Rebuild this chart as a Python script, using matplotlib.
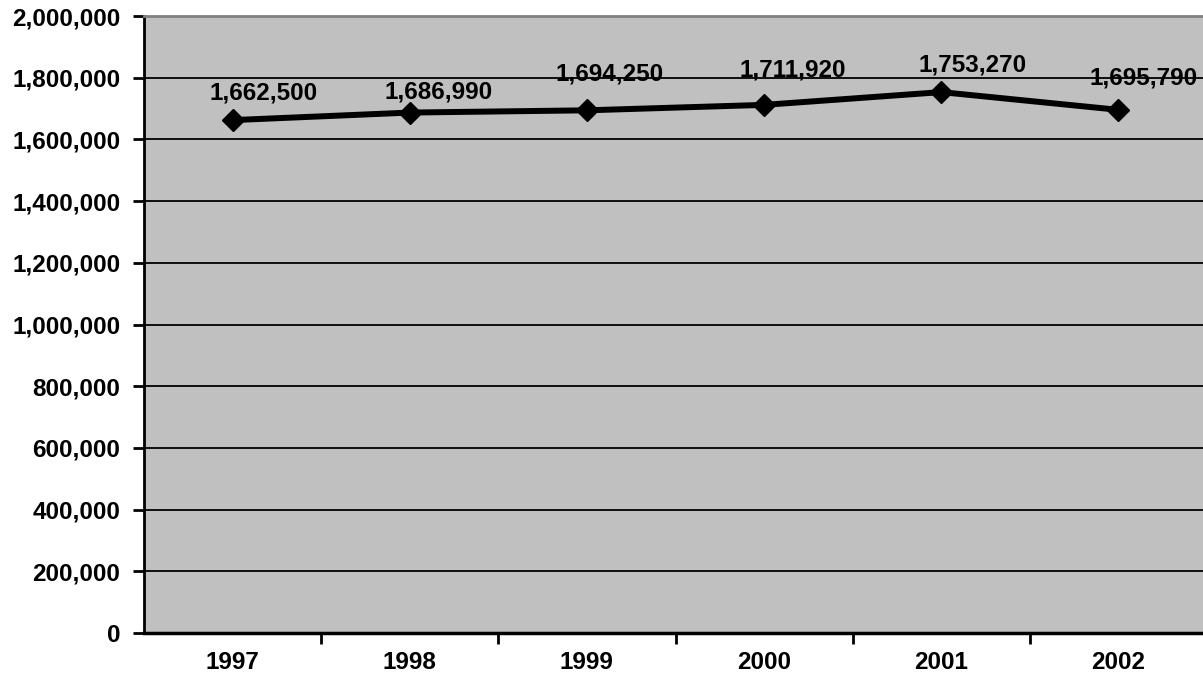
import matplotlib.pyplot as plt
from matplotlib.ticker import FuncFormatter, MultipleLocator

years = ['1997', '1998', '1999', '2000', '2001', '2002']
values = [1662500, 1686990, 1694250, 1711920, 1753270, 1695790]

# label offsets in pixels (dx, dy) relative to each marker
label_offsets = [(31, 27), (29, 21), (23, 36), (29, 35), (31, 27), (25, 32)]

plt.rcParams['font.family'] = ['Liberation Sans', 'DejaVu Sans']
plt.rcParams['font.weight'] = 'bold'

W, H = 1203, 689
fig = plt.figure(figsize=(W / 100, H / 100), dpi=100)
fig.patch.set_facecolor('white')
# plot area runs a little past the right edge of the figure
ax = fig.add_axes([144 / W, (H - 633) / H, 1063 / W, 617 / H])
ax.set_facecolor('#C0C0C0')

x = range(len(years))
ax.plot(x, values, color='black', lw=4.3, marker='D', ms=11, zorder=3)

for i, v in enumerate(values):
    dx, dy = label_offsets[i]
    ax.annotate('{:,}'.format(v), (i, v), xytext=(dx * 0.72, dy * 0.72),
                textcoords='offset points', ha='center', va='center',
                fontsize=17.5, fontweight='bold', zorder=4)

ax.set_xlim(-0.5, len(years) - 0.5)
ax.set_ylim(0, 2000000)
ax.yaxis.set_major_locator(MultipleLocator(200000))
ax.yaxis.set_major_formatter(FuncFormatter(lambda v, p: '{:,}'.format(int(v))))
ax.grid(axis='y', color='black', lw=1.3, zorder=1)
ax.set_axisbelow(True)

# category boundaries carry the ticks, labels sit in the middle
ax.set_xticks([i + 0.5 for i in range(len(years) - 1)])
ax.set_xticklabels([])
ax.set_xticks(list(x), minor=True)
ax.set_xticklabels(years, minor=True)
ax.tick_params(axis='x', which='major', direction='out', length=8, width=2)
ax.tick_params(axis='x', which='minor', length=0, pad=13, labelsize=17.5)
ax.tick_params(axis='y', direction='out', length=8, width=2, pad=9, labelsize=17.5)

for lab in ax.get_xticklabels(minor=True) + ax.get_yticklabels():
    lab.set_fontweight('bold')

ax.spines['left'].set_linewidth(2)
ax.spines['bottom'].set_linewidth(2.5)
ax.spines['top'].set_color('#808080')
ax.spines['top'].set_linewidth(2)
ax.spines['right'].set_visible(False)

fig.savefig('out.png', dpi=100)
